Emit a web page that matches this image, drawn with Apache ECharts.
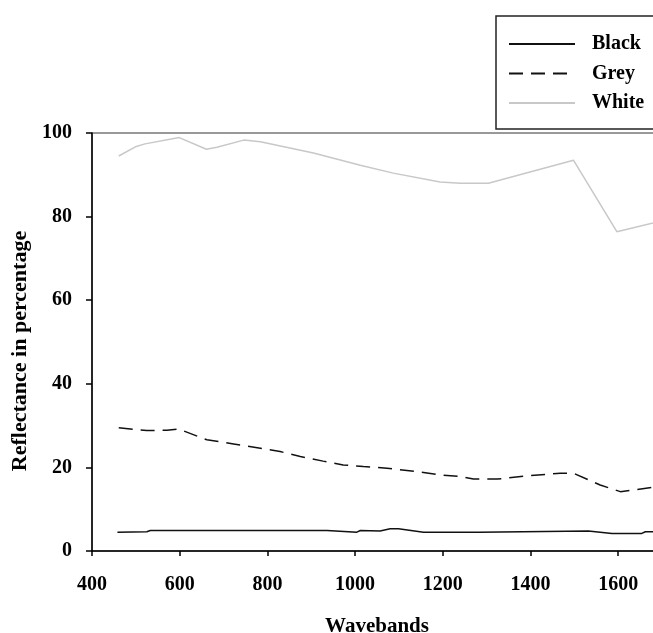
<!DOCTYPE html>
<html>
<head>
<meta charset="utf-8">
<script src="https://cdn.jsdelivr.net/npm/echarts@6/dist/echarts.min.js"></script>
<style>
  html, body { margin: 0; padding: 0; background: #fff; }
  #main { width: 653px; height: 633px; }
</style>
</head>
<body>
<div id="main"></div>
<script>
// values
var blackX = [458, 525, 533, 936, 939, 1004, 1012, 1057, 1080, 1099, 1156, 1282, 1285, 1532, 1586, 1654, 1662, 1700];
var blackY = [4.5, 4.6, 4.9, 4.9, 4.5, 4.5, 4.9, 4.8, 5.3, 5.3, 4.5, 4.5, 4.9, 4.8, 4.2, 4.2, 4.6, 4.6];

var greyX = [461, 525, 571, 597, 662, 723, 784, 829, 875, 927, 973, 1019, 1073, 1141, 1194, 1240, 1270, 1324, 1392, 1468, 1498, 1559, 1605, 1700];
var greyY = [29.5, 28.8, 28.9, 29.2, 26.6, 25.6, 24.6, 23.8, 22.6, 21.5, 20.6, 20.2, 19.8, 19.0, 18.2, 17.8, 17.2, 17.2, 18.0, 18.6, 18.6, 15.8, 14.2, 15.5];

var whiteX = [461, 499, 521, 599, 661, 685, 746, 784, 905, 1012, 1087, 1194, 1240, 1304, 1498, 1597, 1700];
var whiteY = [94.5, 96.7, 97.4, 98.9, 96.1, 96.6, 98.3, 97.9, 95.2, 92.3, 90.4, 88.3, 88.0, 88.0, 93.5, 76.4, 79.0];

function pairs(xs, ys) {
  var out = [];
  for (var i = 0; i < xs.length; i++) out.push([xs[i], ys[i]]);
  return out;
}

var font = 'Liberation Serif';
var chart = echarts.init(document.getElementById('main'));
var option = {
  backgroundColor: '#fff',
  animation: false,
  grid: {
    left: 92, right: -9, top: 133, bottom: 82,
    outerBoundsMode: 'none', containLabel: false,
    show: true, borderColor: '#333', borderWidth: 1, backgroundColor: 'transparent'
  },
  legend: {
    orient: 'vertical',
    left: 496, top: 16,
    padding: [18, 30, 16, 12],
    itemWidth: 66, itemHeight: 16, itemGap: 9.5,
    borderColor: '#222', borderWidth: 1.5,
    itemStyle: { opacity: 0 },
    textStyle: { fontFamily: font, fontWeight: 'bold', fontSize: 20, color: '#000', padding: [0, 0, 0, 12] },
    data: ['Black', 'Grey', 'White']
  },
  xAxis: {
    type: 'value', min: 400, max: 1700, interval: 200,
    name: 'Wavebands', nameLocation: 'middle', nameGap: 65,
    nameTextStyle: { fontFamily: font, fontWeight: 'bold', fontSize: 21, color: '#000' },
    axisLine: { lineStyle: { color: '#000', width: 1.5 } },
    axisTick: { length: 5, lineStyle: { color: '#000', width: 1.5 } },
    axisLabel: { fontFamily: font, fontWeight: 'bold', fontSize: 20, color: '#000', margin: 24,
      showMaxLabel: false, formatter: function (v) { return String(v); } },
    splitLine: { show: false }
  },
  yAxis: {
    type: 'value', min: 0, max: 100, interval: 20,
    name: 'Reflectance in percentage', nameLocation: 'middle', nameGap: 56,
    nameTextStyle: { fontFamily: font, fontWeight: 'bold', fontSize: 22, color: '#000', padding: [0, 18, 0, 0] },
    axisLine: { show: true, lineStyle: { color: '#000', width: 1.5 } },
    axisTick: { show: true, length: 6, lineStyle: { color: '#000', width: 1.5 } },
    axisLabel: { fontFamily: font, fontWeight: 'bold', fontSize: 20, color: '#000', margin: 20 },
    splitLine: { show: false }
  },
  series: [
    {
      name: 'Black', type: 'line', data: pairs(blackX, blackY),
      symbol: 'none', itemStyle: { color: '#111' },
      lineStyle: { color: '#111', width: 1.5 }
    },
    {
      name: 'Grey', type: 'line', data: pairs(greyX, greyY),
      symbol: 'none', itemStyle: { color: '#111' },
      lineStyle: { color: '#111', width: 1.5, type: [14, 8] }
    },
    {
      name: 'White', type: 'line', data: pairs(whiteX, whiteY),
      symbol: 'none', itemStyle: { color: '#c8c8c8' },
      lineStyle: { color: '#c8c8c8', width: 1.5 }
    }
  ]
};
chart.setOption(option);
</script>
</body>
</html>
